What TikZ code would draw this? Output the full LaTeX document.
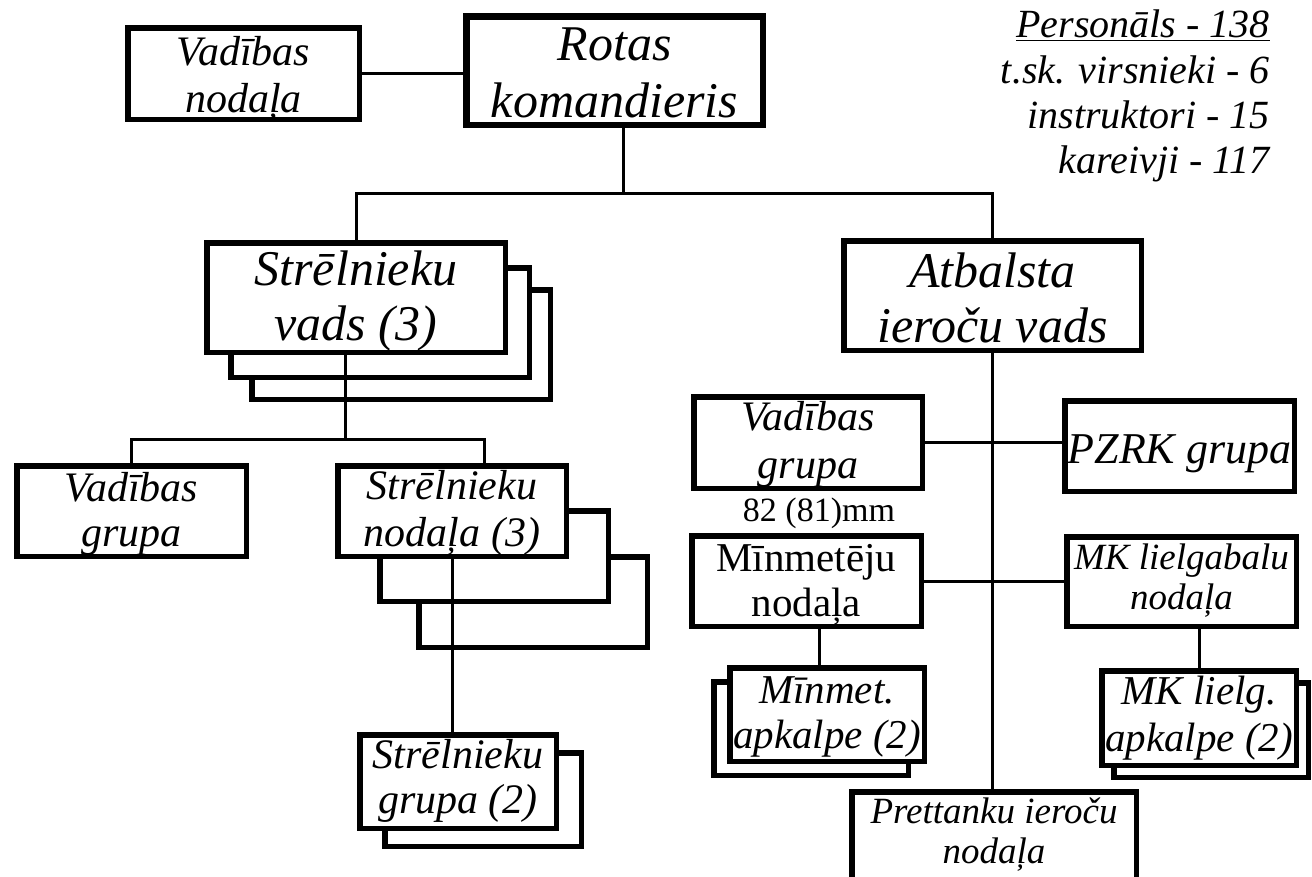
\documentclass[tikz,border=0pt]{standalone}
\usepackage{fontspec}
\setmainfont{Liberation Serif}
\usetikzlibrary{calc}
\pgfdeclarelayer{bg}
\pgfsetlayers{bg,main}
\begin{document}
\begin{tikzpicture}[x=1pt,y=-1pt,
  box/.style={draw, line width=5.5pt, fill=white, inner sep=0pt, outer sep=0pt, align=center},
  shd/.style={draw, line width=5.5pt, fill=white},
  conn/.style={line width=3pt},
  tb/.style 2 args={text height=#1pt, text depth=#2pt},
]
\clip (0,0) rectangle (1312,876);
% boxes
\node[box, tb={78.5}{1.5}, font=\itshape\fontsize{42}{47}\selectfont, minimum width=231.5pt, minimum height=91.5pt] (vn) at (243.5,73.5) {Vadības\\nodaļa};
\node[box, tb={96.5}{3.5}, line width=6.5pt, font=\itshape\fontsize{50}{57}\selectfont, minimum width=296.5pt, minimum height=108.5pt] (rk) at (614.5,70.5) {Rotas\\komandieris};
\node[box, tb={87.5}{2.5}, font=\itshape\fontsize{50}{55}\selectfont, minimum width=298.5pt, minimum height=109.5pt] (sv) at (356,297.5) {Strēlnieku\\vads (3)};
\node[box, tb={94.5}{1.5}, font=\itshape\fontsize{50}{55}\selectfont, minimum width=297.5pt, minimum height=109.5pt] (av) at (992.5,295.5) {Atbalsta\\ieroču vads};
\node[box, tb={75}{5}, font=\itshape\fontsize{42}{45}\selectfont, minimum width=229.5pt, minimum height=90.5pt] (vg) at (131.5,511) {Vadības\\grupa};
\node[box, tb={75}{5}, font=\itshape\fontsize{42}{47}\selectfont, minimum width=228.5pt, minimum height=90.5pt] (sn) at (452,511) {Strēlnieku\\nodaļa (3)};
\node[box, tb={71.5}{8.5}, font=\itshape\fontsize{42}{45}\selectfont, minimum width=196.5pt, minimum height=93.5pt] (sg) at (458,781.5) {Strēlnieku\\grupa (2)};
\node[box, tb={75.5}{4.5}, font=\itshape\fontsize{42}{48}\selectfont, minimum width=228.5pt, minimum height=91.5pt] (vg2) at (808,442.5) {Vadības\\grupa};
\node[box, tb={57}{23}, font=\itshape\fontsize{44}{48}\selectfont, minimum width=229.5pt, minimum height=90.5pt] (pz) at (1179.5,446) {PZRK grupa};
\node[inner sep=0pt, anchor=base, font=\fontsize{34}{36}\selectfont] (mm) at (819,521) {82 (81)mm};
\node[box, tb={75}{5}, font=\fontsize{41}{45}\selectfont, minimum width=229.5pt, minimum height=90.5pt] (mn) at (806.5,581) {Mīnmetēju\\nodaļa};
\node[box, tb={67.5}{12.5}, font=\itshape\fontsize{37}{40}\selectfont, minimum width=229.5pt, minimum height=89.5pt] (mk) at (1181.5,581.5) {MK lielgabalu\\nodaļa};
\node[box, tb={73.5}{6.5}, font=\itshape\fontsize{41}{45}\selectfont, minimum width=194.5pt, minimum height=93.5pt] (ma) at (827,714.5) {Mīnmet.\\apkalpe (2)};
\node[box, tb={73}{7}, font=\itshape\fontsize{41}{47}\selectfont, minimum width=194.5pt, minimum height=94.5pt] (ml) at (1199,718) {MK lielg.\\apkalpe (2)};
\node[box, tb={66}{14}, font=\itshape\fontsize{37}{40}\selectfont, minimum width=284.5pt, minimum height=90.5pt] (pt) at (994,837) {Prettanku ieroču\\nodaļa};
\node[inner sep=0pt, anchor=north east, align=right, font=\itshape\fontsize{40}{45.3}\selectfont] (pers) at (1270,10) {\underline{Personāls - 138}\\t.sk. virsnieki - 6\\instruktori - 15\\kareivji - 117};
% stacked copies behind
\begin{pgfonlayer}{bg}
\fill[white] (0,0) rectangle (1312,876);
\draw[shd] ([shift={(45,47)}]sv.south west) rectangle ([shift={(45,47)}]sv.north east);
\draw[shd] ([shift={(24,25)}]sv.south west) rectangle ([shift={(24,25)}]sv.north east);
\draw[shd] ([shift={(81,91)}]sn.south west) rectangle ([shift={(81,91)}]sn.north east);
\draw[shd] ([shift={(42,45)}]sn.south west) rectangle ([shift={(42,45)}]sn.north east);
\draw[shd] ([shift={(25,18)}]sg.south west) rectangle ([shift={(25,18)}]sg.north east);
\draw[shd] ([shift={(-16,14)}]ma.south west) rectangle ([shift={(-16,14)}]ma.north east);
\draw[shd] ([shift={(12,12)}]ml.south west) rectangle ([shift={(12,12)}]ml.north east);
\end{pgfonlayer}
% connectors
\coordinate (t1) at (623,193);
\coordinate (t2) at (345,439);
\coordinate (t3) at (484,439);
\draw[conn] (vn.east) -- (vn.east -| rk.west);
\draw[conn] (rk.south -| t1) -- (t1);
\draw[conn] (sv.north) -- (sv.north |- t1) -- (av.north |- t1) -- (av.north);
\draw[conn] (sv.south -| t2) -- (t2);
\draw[conn] (vg.north) -- (vg.north |- t2) -- (t3) -- (t3 |- sn.north);
\draw[conn] (sn.south) -- (sn.south |- sg.north);
\draw[conn] (av.south) -- (av.south |- pt.north);
\draw[conn] (vg2.east) -- (vg2.east -| pz.west);
\draw[conn] (mn.east) -- (mn.east -| mk.west);
\draw[conn] ([xshift=12.5pt]mn.south) -- ([xshift=12.5pt]mn.south |- ma.north);
\draw[conn] (ml.north) -- (ml.north |- mk.south);
\end{tikzpicture}
\end{document}
